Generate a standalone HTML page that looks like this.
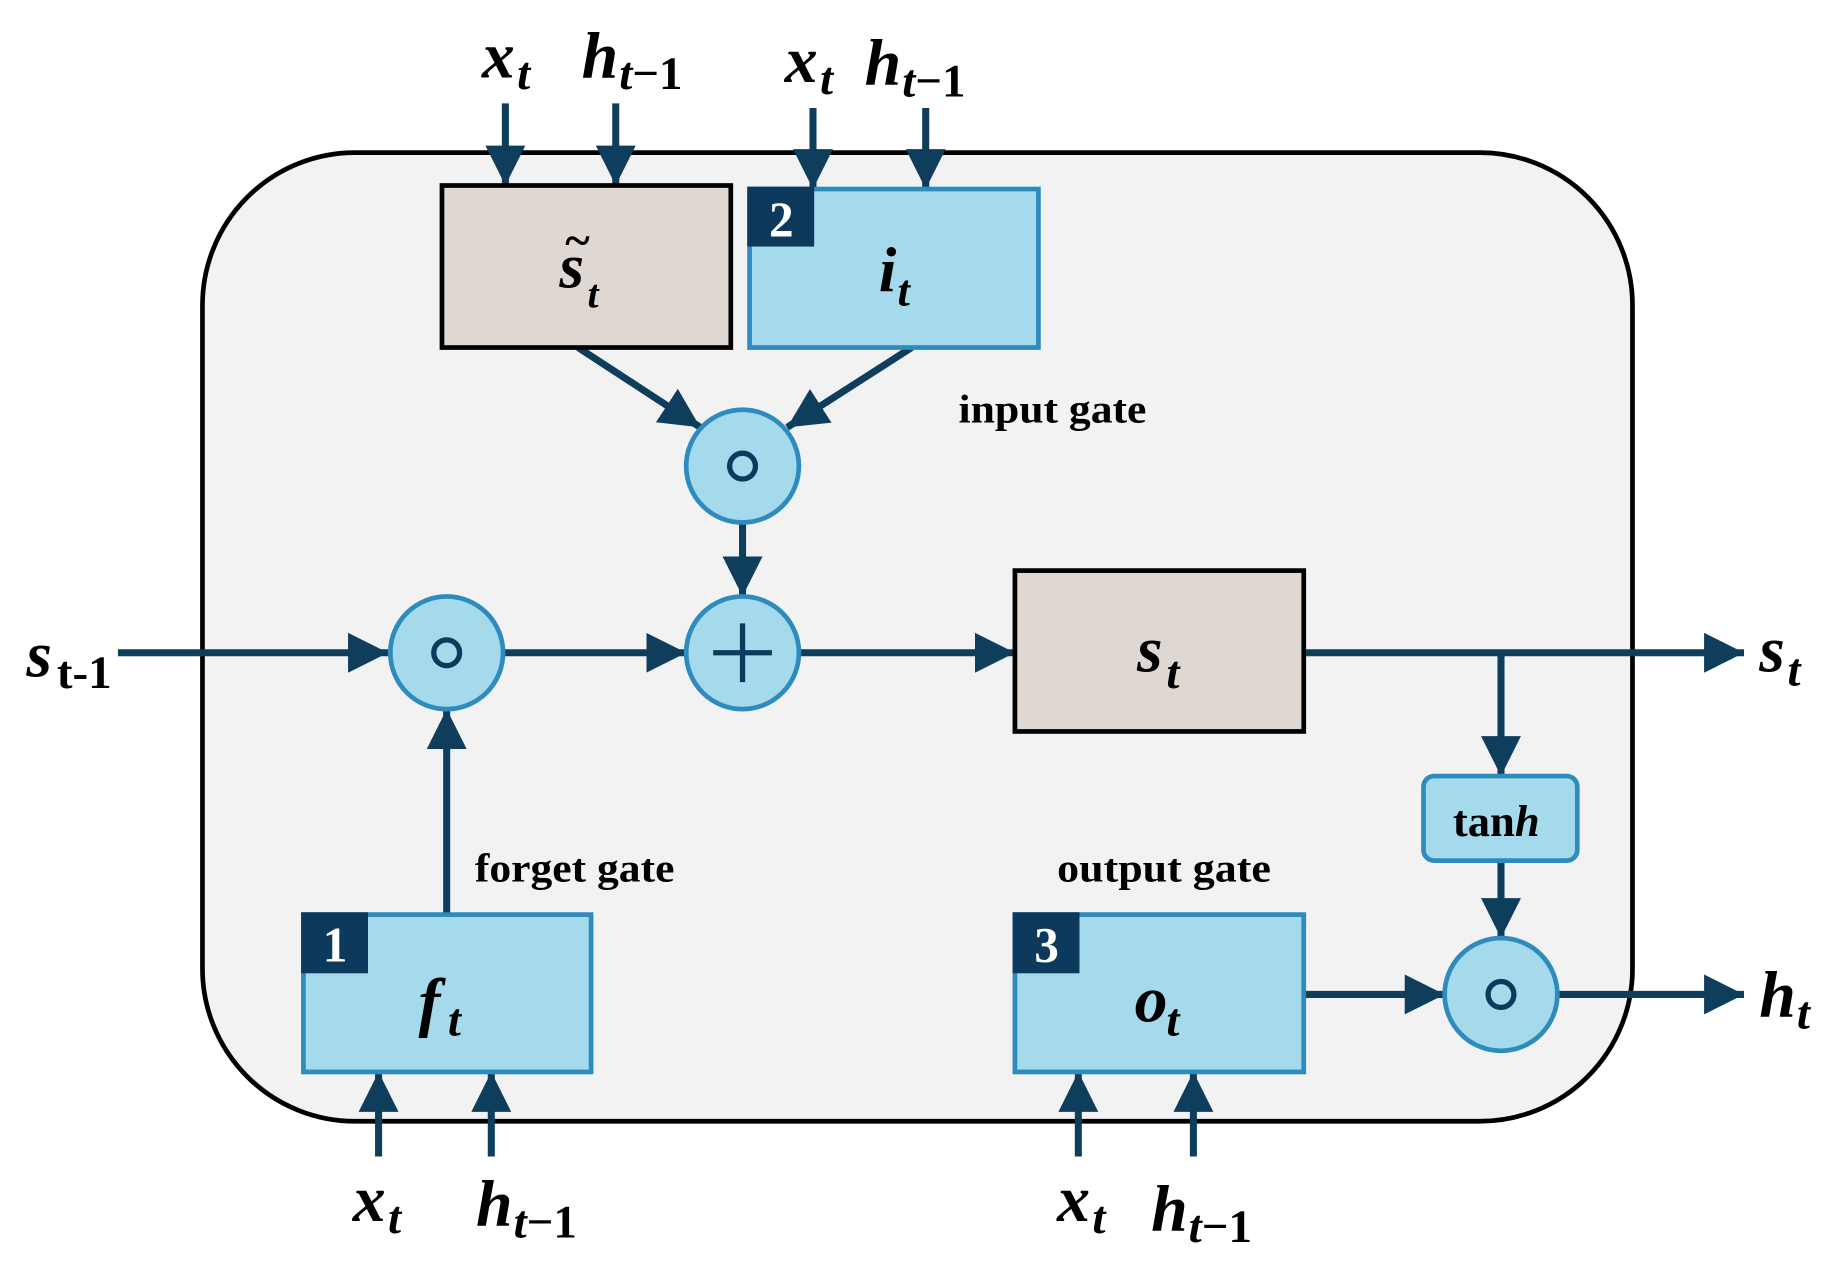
<!DOCTYPE html>
<html><head><meta charset="utf-8"><style>
html,body{margin:0;padding:0;background:#fff;}
svg{display:block;}
text{font-family:"Liberation Serif",serif;font-weight:bold;fill:#000;}
.it{font-style:italic;}
</style></head><body>
<svg width="1842" height="1268" viewBox="0 0 1568 1080" xmlns="http://www.w3.org/2000/svg">
<defs>
<marker id="a" markerUnits="userSpaceOnUse" markerWidth="36" markerHeight="34" refX="34" refY="17" orient="auto">
<polygon points="0,0 34,17 0,34" fill="#0f3d5c"/>
</marker>
</defs>
<rect x="172" y="130" width="1218" height="825" rx="130" fill="#f2f2f2" stroke="#000" stroke-width="4"/>
<g stroke="#0f3d5c" stroke-width="6" fill="none" marker-end="url(#a)">
<line x1="430" y1="88" x2="430" y2="158"/>
<line x1="524" y1="88" x2="524" y2="158"/>
<line x1="692" y1="92" x2="692" y2="161"/>
<line x1="788" y1="92" x2="788" y2="161"/>
<line x1="492" y1="296" x2="596" y2="364"/>
<line x1="776" y1="296" x2="670" y2="364"/>
<line x1="632" y1="445" x2="632" y2="508"/>
<line x1="100" y1="556" x2="330" y2="556"/>
<line x1="428" y1="556" x2="584" y2="556"/>
<line x1="681" y1="556" x2="864" y2="556"/>
<line x1="1110" y1="556" x2="1485" y2="556"/>
<line x1="1278" y1="556" x2="1278" y2="661"/>
<line x1="1278" y1="733" x2="1278" y2="799"/>
<line x1="1110" y1="847" x2="1230" y2="847"/>
<line x1="1327" y1="847" x2="1485" y2="847"/>
<line x1="380" y1="779" x2="380" y2="604"/>
<line x1="322" y1="985" x2="322" y2="913"/>
<line x1="418" y1="985" x2="418" y2="913"/>
<line x1="918" y1="985" x2="918" y2="913"/>
<line x1="1016" y1="985" x2="1016" y2="913"/>
</g>
<rect x="376" y="158" width="246" height="138" fill="#dfd7d1" stroke="#000" stroke-width="4"/>
<rect x="638" y="161" width="246" height="135" fill="#a5d9ec" stroke="#2e8bbd" stroke-width="4"/>
<rect x="636" y="159" width="57" height="51" fill="#0d3a5c"/>
<text x="665" y="201" font-size="42" text-anchor="middle" style="fill:#fff">2</text>
<rect x="864" y="486" width="246" height="137" fill="#dfd7d1" stroke="#000" stroke-width="4"/>
<rect x="258" y="779" width="245" height="134" fill="#a5d9ec" stroke="#2e8bbd" stroke-width="4"/>
<rect x="256" y="777" width="57" height="52" fill="#0d3a5c"/>
<text x="285" y="819" font-size="42" text-anchor="middle" style="fill:#fff">1</text>
<rect x="864" y="779" width="246" height="134" fill="#a5d9ec" stroke="#2e8bbd" stroke-width="4"/>
<rect x="862" y="777" width="57" height="52" fill="#0d3a5c"/>
<text x="891" y="819" font-size="42" text-anchor="middle" style="fill:#fff">3</text>
<rect x="1212" y="661" width="131" height="72" rx="9" fill="#a5d9ec" stroke="#2e8bbd" stroke-width="4"/>
<g fill="#a5d9ec" stroke="#2e8bbd" stroke-width="4">
<circle cx="632" cy="397" r="48"/>
<circle cx="632" cy="556" r="48"/>
<circle cx="380" cy="556" r="48"/>
<circle cx="1278" cy="847" r="48"/>
</g>
<g fill="none" stroke="#0d3a5c" stroke-width="4.5">
<circle cx="632" cy="397" r="11"/>
<circle cx="380" cy="556" r="11"/>
<circle cx="1278" cy="847" r="11"/>
<line x1="607" y1="556" x2="657" y2="556"/>
<line x1="632" y1="531" x2="632" y2="581"/>
</g>
<text x="476" y="245" font-size="54" class="it">s</text>
<text x="481" y="218" font-size="40">~</text>
<text x="500" y="262" font-size="34" class="it">t</text>
<text x="748" y="248" font-size="54" class="it">i</text><text x="764" y="260" font-size="38" class="it">t</text>
<text x="968" y="572" font-size="56" class="it">s</text><text x="993" y="586" font-size="40" class="it">t</text>
<text x="356" y="872" font-size="56" class="it">f</text><text x="381" y="882" font-size="40" class="it">t</text>
<text x="966" y="870" font-size="56" class="it">o</text><text x="993" y="882" font-size="40" class="it">t</text>
<text x="1237" y="712" font-size="38">tan<tspan class="it">h</tspan></text>
<text x="816" y="360" font-size="34" textLength="160" lengthAdjust="spacingAndGlyphs">input gate</text>
<text x="404" y="751" font-size="34" textLength="170" lengthAdjust="spacingAndGlyphs">forget gate</text>
<text x="900" y="751" font-size="34" textLength="182" lengthAdjust="spacingAndGlyphs">output gate</text>
<text x="410" y="66" font-size="56" class="it">x</text><text x="440" y="76" font-size="40" class="it">t</text>
<text x="495" y="66" font-size="56" class="it">h</text><text x="527" y="76" font-size="40"><tspan class="it">t</tspan>−1</text>
<text x="668" y="70" font-size="56" class="it">x</text><text x="698" y="80" font-size="40" class="it">t</text>
<text x="736" y="72" font-size="56" class="it">h</text><text x="768" y="82" font-size="40"><tspan class="it">t</tspan>−1</text>
<text x="300" y="1040" font-size="56" class="it">x</text><text x="330" y="1050" font-size="40" class="it">t</text>
<text x="405" y="1044" font-size="56" class="it">h</text><text x="437" y="1054" font-size="40"><tspan class="it">t</tspan>−1</text>
<text x="900" y="1040" font-size="56" class="it">x</text><text x="930" y="1050" font-size="40" class="it">t</text>
<text x="980" y="1048" font-size="56" class="it">h</text><text x="1012" y="1058" font-size="40"><tspan class="it">t</tspan>−1</text>
<text x="22" y="576" font-size="56" class="it">s</text><text x="48" y="586" font-size="40">t-1</text>
<text x="1498" y="572" font-size="56" class="it">s</text><text x="1522" y="584" font-size="40" class="it">t</text>
<text x="1498" y="866" font-size="56" class="it">h</text><text x="1530" y="876" font-size="40" class="it">t</text>
</svg>
</body></html>
